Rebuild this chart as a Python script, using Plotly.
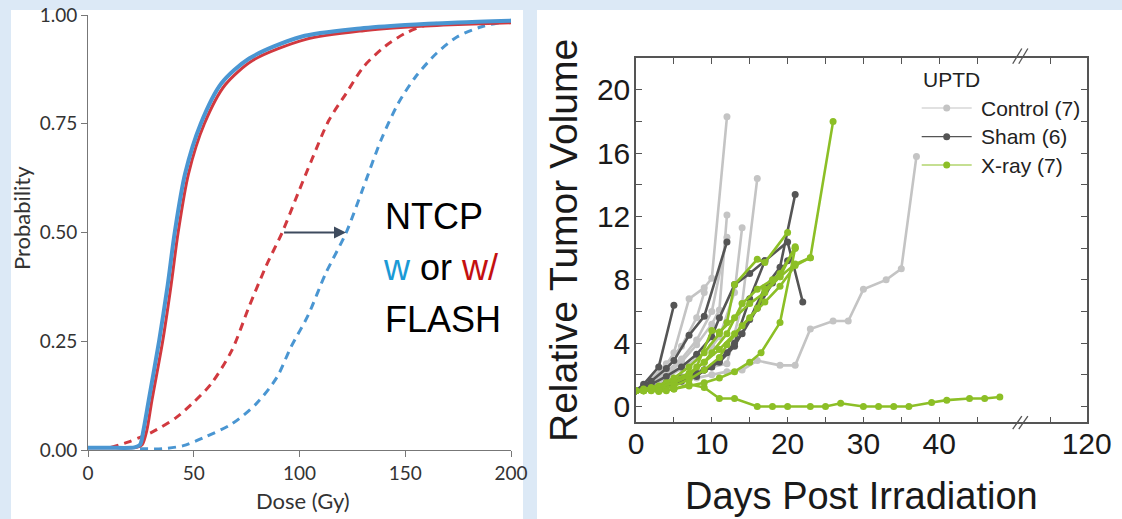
import plotly.graph_objects as go

W, H = 1122, 519

# ---------------- Left panel data (NTCP curves) ----------------
dose_blue_solid = [0, 10, 20, 22, 24.6, 26.2, 28.7, 33.6, 37.7, 41, 45.9, 53.3, 63.1, 76.2, 100.8, 128.7, 150, 175, 200]
prob_blue_solid = [0.005, 0.005, 0.005, 0.006, 0.012, 0.045, 0.114, 0.25, 0.38, 0.5, 0.635, 0.75, 0.843, 0.9, 0.95, 0.969, 0.977, 0.983, 0.987]

dose_red_solid = [0, 10, 20, 23, 25.6, 27.8, 30.2, 35.3, 39.3, 42.6, 47.5, 55.0, 64.8, 78.0, 103.0, 130.3, 153.3, 175, 200]
prob_red_solid = [0.005, 0.005, 0.005, 0.006, 0.012, 0.045, 0.114, 0.25, 0.38, 0.5, 0.635, 0.75, 0.839, 0.896, 0.944, 0.964, 0.973, 0.978, 0.982]

dose_red_dash = [10.7, 18.9, 24.6, 30.3, 41.8, 50, 58.2, 68, 76.2, 84.4, 91.8, 99.2, 105.7, 113.9, 122.1, 130.3, 140.2, 150, 159.8, 164.8]
prob_red_dash = [0.006, 0.018, 0.029, 0.041, 0.075, 0.11, 0.152, 0.229, 0.33, 0.425, 0.5, 0.589, 0.666, 0.758, 0.82, 0.881, 0.927, 0.958, 0.977, 0.981]

dose_blue_dash = [24.6, 35.2, 45.1, 54.9, 68, 79.5, 89.3, 95.9, 104.1, 112.3, 122.1, 130.3, 138.5, 146.7, 154.9, 164.8, 174.6, 186.1, 200]
prob_blue_dash = [0.003, 0.003, 0.01, 0.029, 0.06, 0.106, 0.167, 0.236, 0.31, 0.405, 0.5, 0.605, 0.712, 0.797, 0.858, 0.912, 0.95, 0.973, 0.988]

dose_ticks = [0, 50, 100, 150, 200]
prob_ticks = [0.0, 0.25, 0.5, 0.75, 1.0]
prob_tick_text = ["0.00", "0.25", "0.50", "0.75", "1.00"]
arrow_from, arrow_to, arrow_level = 92, 122, 0.5

# ---------------- Right panel data (tumor volume) ----------------
control_days = [
    [0, 2, 4, 5, 7, 9, 10, 12],
    [0, 2, 4, 6, 8, 10, 11, 12],
    [0, 2, 4, 6, 8, 10, 12, 14, 16],
    [0, 2, 4, 6, 8, 10, 11, 13, 14],
    [0, 2, 4, 6, 8, 10, 12, 14, 16, 19, 21, 23, 26, 28, 30, 33, 35, 37],
    [0, 2, 4, 6, 8, 10, 12],
    [0, 2, 4, 6, 8, 9],
]
control_vals = [
    [1, 1.6, 2.6, 3.4, 6.8, 7.5, 8.1, 18.3],
    [1, 1.4, 2.0, 2.8, 3.9, 5.2, 6.1, 12.1],
    [1, 1.3, 1.6, 1.9, 2.2, 2.5, 2.7, 6.5, 14.4],
    [1, 1.3, 1.8, 2.4, 3.0, 3.8, 4.4, 7.2, 11.3],
    [1, 1.2, 1.4, 1.6, 1.8, 2.0, 2.2, 2.3, 2.9, 2.6, 2.6, 4.9, 5.4, 5.4, 7.4, 8.0, 8.7, 15.8],
    [1, 1.5, 2.2, 3.0, 4.2, 6.0, 10.7],
    [1, 1.7, 2.7, 3.8, 5.6, 7.2],
]
sham_days = [
    [0, 1, 3, 5],
    [0, 2, 4, 5, 7, 9, 12],
    [0, 2, 4, 6, 8, 9, 11, 13, 15, 17, 19, 21],
    [0, 2, 4, 6, 8, 10, 11, 13, 15, 17, 20, 22],
    [0, 2, 4, 6, 8, 10, 12, 14, 16, 18, 20],
    [0, 2, 4, 6, 8, 9, 11, 13, 15, 17],
]
sham_vals = [
    [1, 1.4, 2.5, 6.4],
    [1, 1.6, 2.4, 2.9, 4.5, 5.7, 10.4],
    [1, 1.2, 1.5, 1.8, 2.1, 2.3, 2.8, 3.8, 5.5, 7.5, 8.8, 13.4],
    [1, 1.4, 1.9, 2.5, 3.3, 4.4, 5.6, 7.7, 8.4, 9.2, 10.4, 6.6],
    [1, 1.2, 1.4, 1.7, 2.0, 2.5, 3.4, 4.6, 6.2, 7.8, 9.2],
    [1, 1.1, 1.3, 1.6, 1.9, 2.3, 2.9, 4.0, 6.8, 9.2],
]
xray_days = [
    [0, 1, 2, 3, 4, 5, 7, 9, 11, 13, 16, 18, 20, 23, 25, 27, 30, 32, 34, 36, 39, 41, 44, 46, 48],
    [0, 1, 2, 4, 5, 7, 9, 11, 13, 15, 17, 19, 21, 23, 26],
    [0, 1, 3, 5, 7, 9, 11, 12, 13, 16, 17, 20],
    [0, 1, 3, 5, 7, 9, 10, 12, 14, 16, 18, 19, 21],
    [0, 2, 3, 5, 7, 8, 10, 11, 13, 15, 17, 19, 21, 23],
    [0, 1, 3, 5, 7, 9, 11, 12, 14, 16, 17, 19, 21],
    [0, 1, 3, 5, 7, 9, 11, 13, 15, 16.5, 19, 21],
]
xray_vals = [
    [1.0, 1.0, 1.0, 0.95, 1.0, 1.1, 1.4, 1.2, 0.5, 0.5, 0.0, 0.0, 0.0, 0.0, 0.0, 0.2, 0.0, 0.0, 0.0, 0.0, 0.25, 0.4, 0.5, 0.5, 0.6],
    [1.0, 1.1, 1.2, 1.5, 1.7, 2.1, 2.8, 3.6, 4.6, 5.6, 6.6, 7.6, 8.9, 9.4, 18.0],
    [1.0, 1.0, 1.3, 1.8, 2.5, 3.4, 4.6, 5.3, 7.7, 9.3, 9.1, 11.0],
    [1.0, 1.0, 1.2, 1.5, 2.0, 2.8, 3.4, 4.6, 6.5, 7.4, 8.0, 8.4, 10.0],
    [1.0, 1.1, 1.2, 1.5, 1.9, 2.5, 4.8, 4.7, 5.6, 6.5, 7.2, 8.2, 9.0, 9.4],
    [1.0, 1.0, 1.1, 1.3, 1.7, 2.3, 3.1, 3.9, 5.1, 6.2, 7.4, 8.2, 10.1],
    [1.0, 1.0, 1.0, 1.1, 1.3, 1.5, 1.8, 2.2, 2.8, 3.4, 5.3, 10.0],
]
group_names = ["Control (7)", "Sham (6)", "X-ray (7)"]
day_tick_vals = [0, 10, 20, 30, 40, 59.46]
day_tick_text = ["0", "10", "20", "30", "40", "120"]
day_minor_vals = [5, 15, 25, 35, 45, 54.7]
axis_break_day = 50.4

# ---------------- styling ----------------
BG = "#dce9f6"
BLUE = "#4a96d2"
RED = "#d1393f"
C_CTRL = "#c4c4c4"
C_SHAM = "#555555"
C_XRAY = "#8cbf26"
SANS = "Liberation Sans, Arial, sans-serif"
HUM = "Lato, Open Sans, sans-serif"


def pxx(x):
    return x / W


def pxy(y):
    return 1 - y / H


fig = go.Figure()

# Left panel curves
fig.add_trace(go.Scatter(x=dose_red_dash, y=prob_red_dash, mode="lines", line=dict(color=RED, width=3, dash="8px,6px", shape="spline", smoothing=0.8), xaxis="x", yaxis="y", showlegend=False))
fig.add_trace(go.Scatter(x=dose_blue_dash, y=prob_blue_dash, mode="lines", line=dict(color=BLUE, width=3, dash="8px,6px", shape="spline", smoothing=0.8), xaxis="x", yaxis="y", showlegend=False))
fig.add_trace(go.Scatter(x=dose_red_solid, y=prob_red_solid, mode="lines", line=dict(color=RED, width=3, shape="spline", smoothing=0.8), xaxis="x", yaxis="y", showlegend=False))
fig.add_trace(go.Scatter(x=dose_blue_solid, y=prob_blue_solid, mode="lines", line=dict(color=BLUE, width=4, shape="spline", smoothing=0.8), xaxis="x", yaxis="y", showlegend=False))

# Right panel curves
for days_list, vals_list, col in [(control_days, control_vals, C_CTRL), (sham_days, sham_vals, C_SHAM), (xray_days, xray_vals, C_XRAY)]:
    for d, v in zip(days_list, vals_list):
        fig.add_trace(go.Scatter(x=d, y=v, mode="lines+markers", line=dict(color=col, width=2.6),
                                 marker=dict(color=col, size=7), xaxis="x2", yaxis="y2", showlegend=False))

shapes = []
# panel backgrounds
shapes.append(dict(type="rect", xref="paper", yref="paper", x0=pxx(11), x1=pxx(523), y0=pxy(519), y1=pxy(10), fillcolor="white", line=dict(width=0), layer="below"))
shapes.append(dict(type="rect", xref="paper", yref="paper", x0=pxx(537), x1=pxx(1122), y0=pxy(519), y1=pxy(10), fillcolor="white", line=dict(width=0), layer="below"))

# axis break marks
for dx in (0.0, 0.8):
    shapes.append(dict(type="line", xref="x2", yref="y2 domain", x0=axis_break_day - 0.7 + dx, x1=axis_break_day + 0.5 + dx, y0=0.985, y1=1.027, line=dict(color="#555", width=1.3)))
    shapes.append(dict(type="line", xref="x2", yref="y2 domain", x0=axis_break_day - 0.7 + dx, x1=axis_break_day + 0.5 + dx, y0=-0.019, y1=0.017, line=dict(color="#555", width=1.3)))

annotations = []
# left panel annotations
annotations.append(dict(x=arrow_to, y=arrow_level, ax=arrow_from, ay=arrow_level, xref="x", yref="y", axref="x", ayref="y",
                        showarrow=True, arrowhead=2, arrowsize=1.2, arrowwidth=2, arrowcolor="#3e4b5e", text=""))
annotations.append(dict(x=139.3, y=0.536, xref="x", yref="y", text="NTCP", showarrow=False, xanchor="left", yanchor="middle", font=dict(family=SANS, size=36, color="black")))
annotations.append(dict(x=138.5, y=0.42, xref="x", yref="y", text='<span style="color:#1b9ad6">w</span> or <span style="color:#c41010">w/</span>', showarrow=False, xanchor="left", yanchor="middle", font=dict(family=SANS, size=36, color="black")))
annotations.append(dict(x=139.3, y=0.30, xref="x", yref="y", text="FLASH", showarrow=False, xanchor="left", yanchor="middle", font=dict(family=SANS, size=36, color="black")))
annotations.append(dict(x=pxx(21), y=pxy(218), xref="paper", yref="paper", text="Probability", textangle=-90, showarrow=False, xanchor="center", yanchor="middle", font=dict(family=HUM, size=22, color="#333")))
annotations.append(dict(x=pxx(303), y=pxy(500), xref="paper", yref="paper", text="Dose (Gy)", showarrow=False, xanchor="center", yanchor="middle", font=dict(family=HUM, size=22, color="#333")))

# right panel titles
annotations.append(dict(x=pxx(563), y=pxy(241), xref="paper", yref="paper", text="Relative Tumor Volume", textangle=-90, showarrow=False, xanchor="center", yanchor="middle", font=dict(family=SANS, size=39, color="#1a1a1a")))
annotations.append(dict(x=pxx(861), y=pxy(496), xref="paper", yref="paper", text="Days Post Irradiation", showarrow=False, xanchor="center", yanchor="middle", font=dict(family=SANS, size=38, color="#1a1a1a")))

# custom legend
annotations.append(dict(x=pxx(921), y=pxy(79), xref="paper", yref="paper", text="UPTD", showarrow=False, xanchor="left", yanchor="middle", font=dict(family=SANS, size=21, color="#222")))
for name, col, yy in zip(group_names, [C_CTRL, C_SHAM, C_XRAY], [108, 136.7, 165]):
    shapes.append(dict(type="line", xref="paper", yref="paper", x0=pxx(921.7), x1=pxx(971.7), y0=pxy(yy), y1=pxy(yy), line=dict(color=col, width=1.2)))
    shapes.append(dict(type="circle", xref="paper", yref="paper", x0=pxx(943.2), x1=pxx(950.2), y0=pxy(yy + 3.5), y1=pxy(yy - 3.5), fillcolor=col, line=dict(width=0)))
    annotations.append(dict(x=pxx(979), y=pxy(yy), xref="paper", yref="paper", text=name, showarrow=False, xanchor="left", yanchor="middle", font=dict(family=SANS, size=21, color="#222")))

fig.update_layout(
    width=W, height=H,
    margin=dict(l=0, r=0, t=0, b=0, pad=0, autoexpand=False),
    paper_bgcolor=BG, plot_bgcolor="rgba(0,0,0,0)",
    showlegend=False,
    shapes=shapes, annotations=annotations,
    xaxis=dict(domain=[pxx(88), pxx(511)], range=[0, 200], tickvals=dose_ticks, ticks="outside", ticklen=6, tickcolor="#777",
               showline=True, linecolor="#777", linewidth=1, showgrid=False, zeroline=False, automargin=False,
               tickfont=dict(family=HUM, size=19, color="#333"), anchor="y"),
    yaxis=dict(domain=[pxy(450), pxy(15)], range=[0, 1], tickvals=prob_ticks, ticktext=prob_tick_text, ticks="outside", ticklen=6, tickcolor="#777",
               showline=True, linecolor="#777", linewidth=1, showgrid=False, zeroline=False, automargin=False,
               tickfont=dict(family=HUM, size=19, color="#333"), anchor="x"),
    xaxis2=dict(domain=[pxx(636), pxx(1086.7)], range=[0, 59.46], tickmode="array", tickvals=day_tick_vals, ticktext=day_tick_text,
                ticks="inside", ticklen=6, tickcolor="#555", tickwidth=1.3,
                minor=dict(tickmode="array", tickvals=day_minor_vals, ticks="inside", ticklen=6, tickcolor="#555", tickwidth=1.3),
                showline=True, linecolor="#555", linewidth=1.5, mirror="ticks", showgrid=False, zeroline=False, automargin=False,
                tickfont=dict(family=SANS, size=30, color="#1a1a1a"), ticklabelstandoff=-6, anchor="y2"),
    yaxis2=dict(domain=[pxy(422.3), pxy(58.3)], range=[-1, 22], tickmode="array", tickvals=[0, 4, 8, 12, 16, 20],
                ticks="inside", ticklen=6, tickcolor="#555", tickwidth=1.3,
                minor=dict(tickmode="array", tickvals=[2, 6, 10, 14, 18], ticks="inside", ticklen=6, tickcolor="#555", tickwidth=1.3),
                showline=True, linecolor="#555", linewidth=1.5, mirror="ticks", showgrid=False, zeroline=False, automargin=False,
                tickfont=dict(family=SANS, size=30, color="#1a1a1a"), ticklabelstandoff=-2, anchor="x2"),
)

fig.write_html("out.html", config={"displayModeBar": False},
               post_script="document.body.style.margin='0px';document.body.style.padding='0px';document.body.style.overflow='hidden';")
